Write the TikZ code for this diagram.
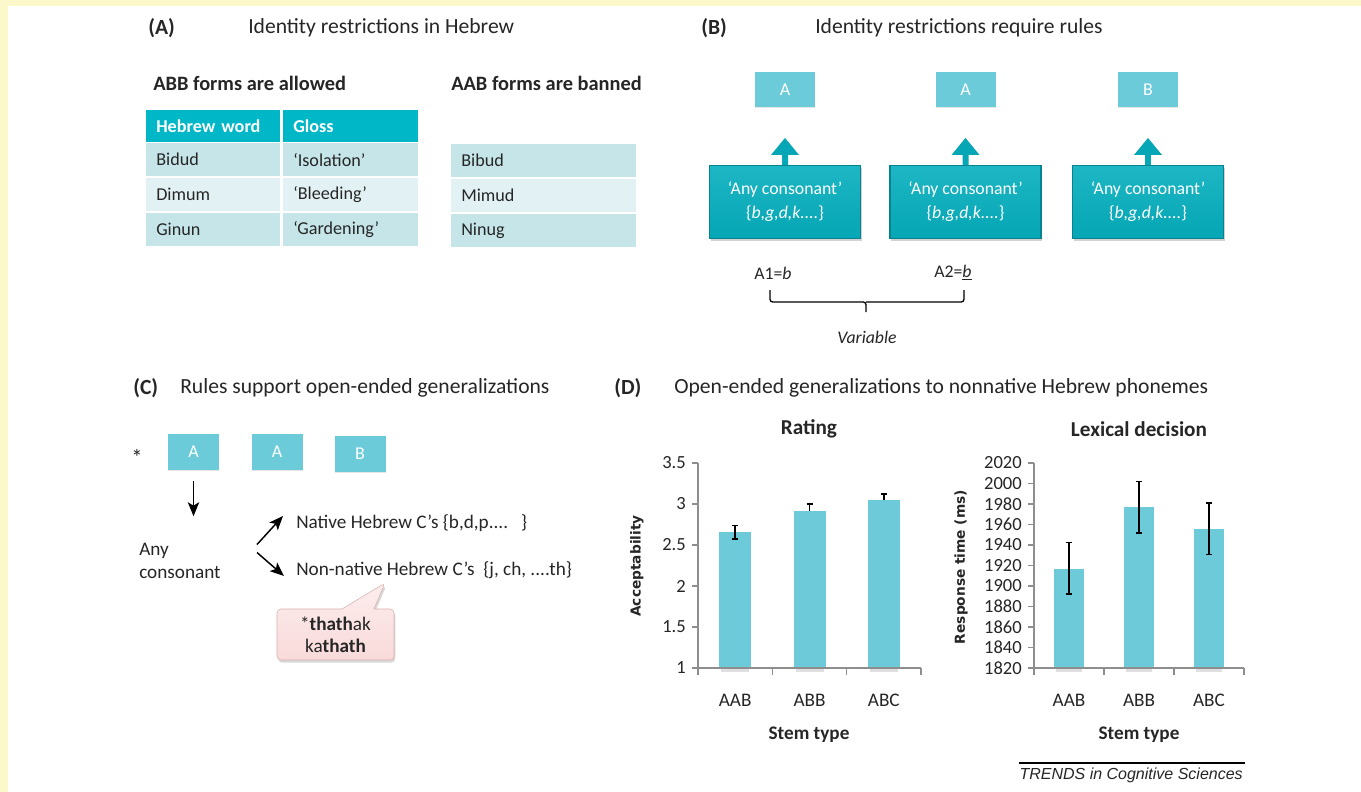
\documentclass[tikz,border=0pt]{standalone}
\usepackage{fontspec}
\setmainfont{Carlito}
\newfontfamily\axisfont{DejaVu Sans}
\newfontfamily\trendsfont{Liberation Sans}
\usetikzlibrary{arrows.meta,shadows,shapes.callouts,calc}

\definecolor{edgeyellow}{HTML}{FCF8CA}
\definecolor{headteal}{HTML}{00B7C7}
\definecolor{rowdark}{HTML}{C5E5E9}
\definecolor{rowlight}{HTML}{E2F2F4}
\definecolor{boxteal}{HTML}{6CCBD8}
\definecolor{bigteal}{HTML}{05A6B5}
\definecolor{bigtealtop}{HTML}{1DB6C4}
\definecolor{bigedge}{HTML}{07828F}
\definecolor{barteal}{HTML}{6DCAD8}
\definecolor{axisgray}{HTML}{8E8E8E}
\definecolor{calloutlight}{HTML}{FDEDED}
\definecolor{calloutpink}{HTML}{F9DADA}
\definecolor{calloutedge}{HTML}{D8AFAF}
\definecolor{txt}{HTML}{262626}

\newcommand\ttlsize{\fontsize{16.2}{19}\selectfont}
\newcommand\subsize{\fontsize{15.3}{18}\selectfont}
\newcommand\tabsize{\fontsize{13.6}{16}\selectfont}
\newcommand\bigboxsize{\fontsize{13.3}{18}\selectfont}
\newcommand\lettersize{\fontsize{13.5}{16}\selectfont}
\newcommand\csize{\fontsize{14.4}{17.25}\selectfont}
\newcommand\tipsize{\fontsize{14.4}{16.5}\selectfont}
\newcommand\charttsize{\fontsize{15.9}{18}\selectfont}
\newcommand\ticksize{\fontsize{13.9}{16}\selectfont}

\begin{document}
\begin{tikzpicture}[x=0.75pt,y=-0.75pt,
  every node/.style={inner sep=0pt,text=txt},
  ttl/.style={font=\ttlsize,anchor=west},
  sub/.style={font=\subsize\bfseries,anchor=west},
  cell/.style={anchor=north west,font=\tabsize,align=left,inner xsep=7.5pt,minimum height=24.75pt},
  hcell/.style={cell,fill=headteal,text=white,font=\tabsize\bfseries,minimum height=24pt},
  lbox/.style={fill=boxteal,text=white,font=\lettersize,minimum height=26.25pt,drop shadow={shadow xshift=0pt,shadow yshift=-1pt,opacity=0.2}},
  bigbox/.style={draw=bigedge,line width=0.8pt,top color=bigtealtop,bottom color=bigteal,text=white,font=\bigboxsize,align=center,minimum width=113.25pt,minimum height=54.75pt,drop shadow={shadow xshift=0.8pt,shadow yshift=-1.5pt,opacity=0.35}},
  uparr/.style={draw=bigteal,line width=4.5pt,-{Triangle[length=12.75pt,width=20pt]}},
  arr/.style={draw=black,line width=1.1pt,-{Stealth[length=10.5pt,width=8.5pt,inset=2.5pt]}},
  bracket/.style={draw=black,line width=1pt,rounded corners=2pt},
  tipbox/.style={rectangle callout,callout pointer width=24pt,rounded corners=3pt,draw=calloutedge,top color=calloutlight,bottom color=calloutpink,font=\tipsize,align=center,minimum width=87.75pt,minimum height=38.25pt,drop shadow={shadow xshift=1pt,shadow yshift=-2pt,opacity=0.3}},
  axis/.style={draw=axisgray,line width=1.1pt},
  ebar/.style={draw=black,line width=1.1pt}]
\fill[white] (0,0) rectangle (1361,792);
\fill[edgeyellow] (0,0) rectangle (1361,6);
\fill[edgeyellow] (0,0) rectangle (8,792);
\useasboundingbox (0,0) rectangle (1361,792);

\node[ttl,font=\ttlsize\bfseries] (pa) at (148,28) {(A)};
\node[ttl] (ta) at (248,28) {Identity restrictions in Hebrew};
\node[sub] (ok) at (153,83) {ABB forms are allowed};
\node[sub] (ban) at (451,83) {AAB forms are banned};
\node[hcell,text width=85.5pt] (h1) at (146,110) {Hebrew word};
\node[hcell,text width=86.25pt] (h2) at (283,110) {Gloss};
\foreach \w/\g/\c [count=\i] in {Bidud/‘Isolation’/rowdark,Dimum/‘Bleeding’/rowlight,Ginun/‘Gardening’/rowdark}{
  \node[cell,fill=\c,text width=85.5pt] (w\i) at (146,{143+35*(\i-1)}) {\w};
  \node[cell,fill=\c,text width=86.25pt] (g\i) at (283,{143+35*(\i-1)}) {\g};
}
\foreach \w/\c [count=\i] in {Bibud/rowdark,Mimud/rowlight,Ninug/rowdark}
  \node[cell,fill=\c,text width=123.75pt] (b\i) at (451,{144+35*(\i-1)}) {\w};

\node[ttl,font=\ttlsize\bfseries] (pb) at (701,28) {(B)};
\node[ttl] (tb) at (815,28) {Identity restrictions require rules};
\foreach \l/\x [count=\i] in {A/785,A/965.5,B/1148}{
  \node[lbox,minimum width=45pt] (sb\i) at (\x,89.5) {\l};
  \node[bigbox] (bb\i) at (\x,202) {‘Any consonant’\\\{\textit{b,g,d,k....}\}};
  \draw[uparr] (bb\i.north) -- ($(bb\i.north)!0.47!(sb\i.south)$);
}
\node[font=\bigboxsize] (a1) at (773,273) {A1=\textit{b}};
\node[font=\bigboxsize] (a2) at (953,273) {A2=\underline{\textit{b}}};
\draw[bracket] (770,290) |- (866,302) -- (866,312);
\draw[bracket] (964,290) |- (866,302);
\node[font=\bigboxsize\itshape] (var) at (867,337) {Variable};

\node[ttl,font=\ttlsize\bfseries] (pc) at (133,388) {(C)};
\node[ttl] (tc) at (180,388) {Rules support open-ended generalizations};
\node[font=\fontsize{17}{20}\selectfont] (star) at (137,457) {*};
\node[lbox,minimum width=38.25pt,minimum height=27pt] (ca1) at (193.5,452) {A};
\node[lbox,minimum width=38.25pt,minimum height=27pt] (ca2) at (277,452) {A};
\node[lbox,minimum width=38.25pt,minimum height=27pt] (cb) at (360,453.5) {B};
\node[font=\csize,anchor=west,align=left] (anyc) at (139,561) {Any\\consonant};
\draw[arr] ([yshift=-8.25pt]ca1.south) -- ++(0,35);
\node[font=\csize,anchor=west] (nat) at (296,523) {Native Hebrew C’s \{b,d,p....\ \ \ \}};
\node[font=\csize,anchor=west] (nonnat) at (296,570) {Non-native Hebrew C’s \ \{j, ch, ....th\}};
\coordinate (fork) at (256,548.5);
\draw[arr] ([shift={(1,-4)}]fork) -- ([shift={(-13,-7)}]nat.west);
\draw[arr] ([shift={(1,4)}]fork) -- ([shift={(-12,6)}]nonnat.west);
\coordinate (tip) at (385,583);
\node[tipbox,callout absolute pointer={(tip)}] (tk) at (335.5,634.5) {*\textbf{thath}ak\\ka\textbf{thath}};

\node[ttl,font=\ttlsize\bfseries] (pd) at (614,388) {(D)};
\node[ttl] (td) at (674,388) {Open-ended generalizations to nonnative Hebrew phonemes};
\node[font=\charttsize\bfseries] (rt) at (809,429) {Rating};
\node[font=\charttsize\bfseries] (lx) at (1139,429) {Lexical decision};
\foreach \v [count=\i] in {1,1.5,2,2.5,3,3.5}{
  \draw[axis] (692,{668-(\v-1)*82}) -- (698,{668-(\v-1)*82});
  \node[font=\ticksize,anchor=east] (ry\i) at (686,{668-(\v-1)*82}) {\v};
}
\foreach \v [count=\i] in {1820,1840,...,2020}{
  \draw[axis] (1028,{668-(\v-1820)*1.025}) -- (1034,{668-(\v-1820)*1.025});
  \node[font=\ticksize,anchor=east] (ly\i) at (1022,{668-(\v-1820)*1.025}) {\v};
}
\foreach \c/\v/\lo/\hi/\lw [count=\i] in {AAB/2.66/2.575/2.74/3,ABB/2.915/2.915/3.0/0,ABC/3.045/3.045/3.12/0}{
  \pgfmathsetmacro\cx{698+(\i-0.5)*74.33}
  \fill[black,opacity=0.12] ({\cx-14},668) rectangle ({\cx+14},672);
  \fill[barteal] ({\cx-16},668) rectangle ({\cx+16},{668-(\v-1)*82});
  \draw[ebar] (\cx,{668-(\lo-1)*82}) -- (\cx,{668-(\hi-1)*82});
  \draw[ebar] ({\cx-3},{668-(\hi-1)*82}) -- ({\cx+3},{668-(\hi-1)*82});
  \draw[ebar] ({\cx-\lw},{668-(\lo-1)*82}) -- ({\cx+\lw},{668-(\lo-1)*82});
  \node[font=\csize] (rc\i) at (\cx,700) {\c};
}
\foreach \c/\v/\lo/\hi [count=\i] in {AAB/1917/1892/1942.6,ABB/1977/1951.5/2002,ABC/1955.5/1930.5/1981}{
  \pgfmathsetmacro\cx{1034+(\i-0.5)*70}
  \fill[black,opacity=0.12] ({\cx-13},668) rectangle ({\cx+13},672);
  \fill[barteal] ({\cx-15},668) rectangle ({\cx+15},{668-(\v-1820)*1.025});
  \draw[ebar] (\cx,{668-(\lo-1820)*1.025}) -- (\cx,{668-(\hi-1820)*1.025});
  \draw[ebar] ({\cx-3},{668-(\hi-1820)*1.025}) -- ({\cx+3},{668-(\hi-1820)*1.025});
  \draw[ebar] ({\cx-3},{668-(\lo-1820)*1.025}) -- ({\cx+3},{668-(\lo-1820)*1.025});
  \node[font=\csize] (lc\i) at (\cx,700) {\c};
}
\draw[axis] (698,463) -- (698,668) -- (921,668);
\foreach \x in {698,772.3,846.7,921} \draw[axis] (\x,668) -- (\x,675);
\draw[axis] (1034,463) -- (1034,668) -- (1244,668);
\foreach \x in {1034,1104,1174,1244} \draw[axis] (\x,668) -- (\x,675);
\node[font=\csize\bfseries] (st1) at (809,735) {Stem type};
\node[font=\csize\bfseries] (st2) at (1139,735) {Stem type};
\node[font=\axisfont\bfseries\fontsize{10.3}{12}\selectfont,rotate=90] (acc) at (637,566) {Acceptability};
\node[font=\axisfont\bfseries\fontsize{10.3}{12}\selectfont,rotate=90] (rsp) at (961,567) {Response time (ms)};
\draw[line width=0.9pt] (1019,763) -- (1245,763);
\node[font=\trendsfont\itshape\fontsize{12}{14}\selectfont,anchor=base east] (tr) at (1243,779) {TRENDS in Cognitive Sciences};
\end{tikzpicture}
\end{document}
